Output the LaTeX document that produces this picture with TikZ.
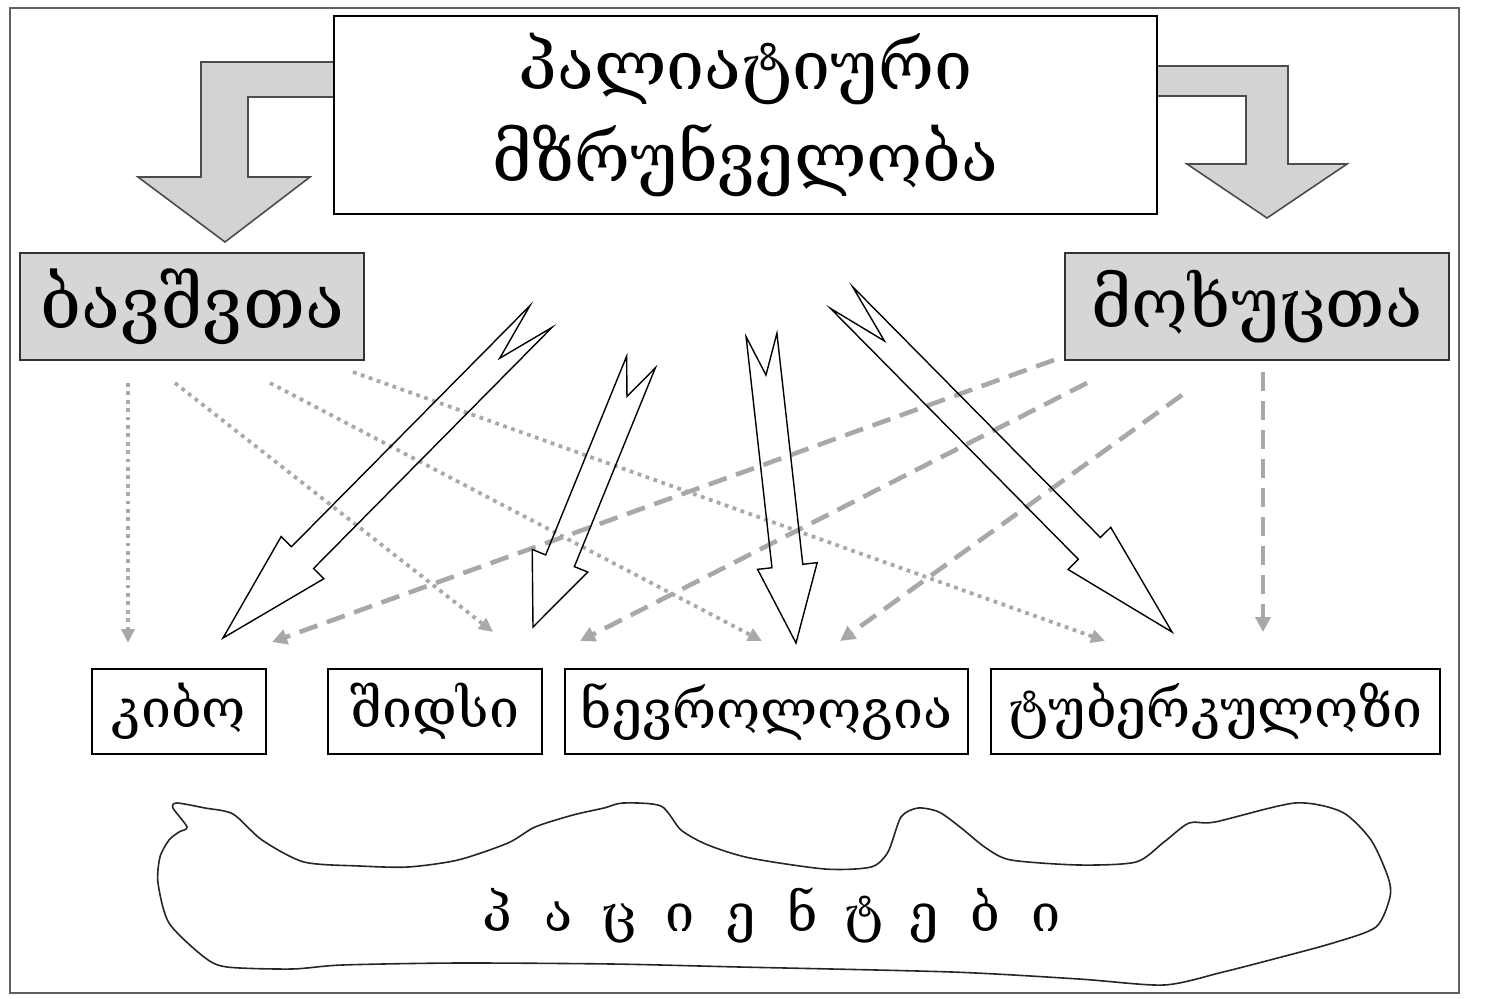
\documentclass[tikz,border=0pt]{standalone}
\usepackage{fontspec}
\newfontfamily\geo{DejaVu Serif}
\usetikzlibrary{calc,arrows.meta}
\definecolor{boxgray}{HTML}{D6D6D8}
\definecolor{arrowgray}{HTML}{D2D3D5}
\definecolor{dotgray}{HTML}{A9A9A9}
\definecolor{dashgray}{HTML}{A8A8A8}
\definecolor{framegray}{HTML}{606060}
\newcommand\lb[1]{\makebox[30.5pt]{#1}}
\newcommand\hollowarrow[2]{%
  \coordinate (#1h) at ($(#1)!0.75!(#2)$);
  \coordinate (#1n) at ($(#1)!0.13!(#2)$);
  \draw[bigarrow] ($(#1)!7.75pt!90:(#2)$) -- ($(#1h)!7.75pt!90:(#2)$) -- ($(#1h)!15pt!90:(#2)$) -- (#2)
    -- ($(#1h)!15pt!-90:(#2)$) -- ($(#1h)!7.75pt!-90:(#2)$) -- ($(#1)!7.75pt!-90:(#2)$) -- (#1n) -- cycle;}
\tikzset{
  titlebox/.style={draw=black, line width=0.8pt, fill=white, minimum width=411.5pt, minimum height=99pt, inner sep=0pt, align=center, font=\geo\fontsize{34}{46}\selectfont},
  graybox/.style={draw=black!80, fill=boxgray, line width=0.8pt, minimum height=53.5pt, inner sep=0pt},
  catbox/.style={draw=black, line width=0.7pt, minimum height=42.5pt, inner sep=0pt, font=\geo\fontsize{26.8}{30}\selectfont},
  dotline/.style={draw=dotgray, line width=1.9pt, dash pattern=on 1.9pt off 2.3pt, -{Triangle[length=7pt,width=6.5pt]}},
  dashline/.style={draw=dashgray, line width=2.3pt, dash pattern=on 9.5pt off 5pt, -{Triangle[length=7.5pt,width=7.5pt]}},
  bigarrow/.style={draw=black, line width=0.7pt, line join=miter},
  bentarrow/.style={draw=black!70, fill=arrowgray, line width=0.8pt},
  blob/.style={draw=black!85, line width=0.8pt},
  plainlabel/.style={inner sep=0pt, font=\geo\fontsize{26}{30}\selectfont}
}
\begin{document}
\begin{tikzpicture}[x=0.5pt,y=-0.5pt]
\useasboundingbox (0,0) rectangle (1490,998);
\draw[framegray, line width=1pt] (10,8) rectangle (1459,993);

% bent arrows from the title
\draw[bentarrow] (334,62) -- (201,62) -- (201,177) -- (138,177) -- (225,242) -- (310,177) -- (248,177) -- (248,97) -- (334,97);
\draw[bentarrow] (1157,66) -- (1288,66) -- (1288,164) -- (1347,164) -- (1267,218) -- (1187,164) -- (1246,164) -- (1246,96) -- (1157,96);

% title
\node[titlebox] (title) at (745.5,115) {\raisebox{2pt}{პალიატიური}\\\raisebox{2pt}{მზრუნველობა}};

% groups
\node[graybox, minimum width=172pt, font=\geo\fontsize{36}{40}\selectfont] (children) at (192,306.5) {ბავშვთა};
\node[graybox, minimum width=192pt, font=\geo\fontsize{34.5}{40}\selectfont] (elderly) at (1257,306.5) {მოხუცთა};

% categories
\node[catbox, minimum width=87pt] (cancer) at (179,711.5) {კიბო};
\node[catbox, minimum width=107pt] (aids) at (435,711.5) {შიდსი};
\node[catbox, minimum width=201.5pt] (neuro) at (766.5,711.5) {ნევროლოგია};
\node[catbox, minimum width=224.5pt] (tb) at (1215.5,711.5) {ტუბერკულოზი};

% connector ends
\coordinate (d1s) at (128,383); \coordinate (d1e) at (128,643);
\coordinate (d2s) at (175,383); \coordinate (d2e) at (493,632);
\coordinate (d3s) at (270,383); \coordinate (d3e) at (762,641);
\coordinate (d4s) at (353,372); \coordinate (d4e) at (1105,641);
\coordinate (e1s) at (1054,360); \coordinate (e1e) at (272,642);
\coordinate (e2s) at (1087,383); \coordinate (e2e) at (580,641);
\coordinate (e3s) at (1182,395); \coordinate (e3e) at (840,641);
\coordinate (e4s) at (1263,372); \coordinate (e4e) at (1263,632);

\draw[dotline] (d1s) -- (d1e);
\draw[dotline] (d2s) -- (d2e);
\draw[dotline] (d3s) -- (d3e);
\draw[dotline] (d4s) -- (d4e);
\draw[dashline] (e1s) -- (e1e);
\draw[dashline] (e2s) -- (e2e);
\draw[dashline] (e3s) -- (e3e);
\draw[dashline] (e4s) -- (e4e);

% big hollow arrows
\coordinate (a1t) at (541,316.5); \coordinate (a1p) at (223,638);
\coordinate (a2t) at (641,362); \coordinate (a2p) at (533,627);
\coordinate (a3t) at (761.5,335); \coordinate (a3p) at (796,643);
\coordinate (a4t) at (841.5,297.5); \coordinate (a4p) at (1172,632);
\hollowarrow{a1t}{a1p}
\hollowarrow{a2t}{a2p}
\hollowarrow{a3t}{a3p}
\hollowarrow{a4t}{a4p}

% patients
\draw[blob] plot[smooth cycle, tension=0.45] coordinates {
(177,803) (205,808) (233,814) (262,840) (304,862) (360,866) (408,867) (458,860) (508,843) (535,827)
(573,815) (604,808) (623,803) (661,806) (681,830) (708,845) (750,858) (825,869) (871,867) (888,852)
(901,817) (918,808) (939,812) (960,827) (986,848) (1011,860) (1079,865) (1136,862) (1164,842) (1189,823)
(1215,822) (1295,803) (1342,812) (1371,840) (1388,877) (1390,897) (1376,927) (1333,943) (1270,960) (1223,972)
(1164,985) (1079,979) (952,972) (740,967) (612,964) (458,963) (342,965) (292,969) (227,967) (204,957)
(169,923) (158,883) (160,857) (169,840) (179,832) (187,827) (173,808)};
\node[plainlabel] (patients) at (772,915) {\lb{პ}\lb{ა}\lb{ც}\lb{ი}\lb{ე}\lb{ნ}\lb{ტ}\lb{ე}\lb{ბ}\lb{ი}};
\end{tikzpicture}
\end{document}
